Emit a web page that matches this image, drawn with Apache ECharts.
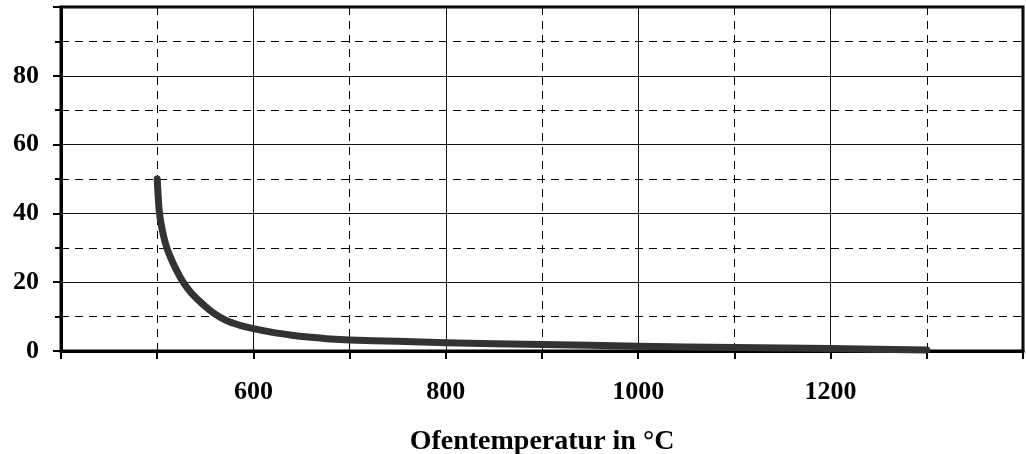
<!DOCTYPE html>
<html>
<head>
<meta charset="utf-8">
<script src="https://cdn.jsdelivr.net/npm/echarts@6/dist/echarts.min.js"></script>
<style>
html,body{margin:0;padding:0;background:#fff;}
#chart{width:1026px;height:454px;}
</style>
</head>
<body>
<div id="chart"></div>
<script>
var temps = [500, 501, 502, 504, 507, 510, 515, 520, 527, 535, 545, 555, 565, 575, 587, 600, 620, 640, 660, 680, 700, 750, 800, 900, 1000, 1100, 1200, 1300];
var values = [50, 45, 41, 37, 33, 30, 26.5, 23.5, 20, 17, 14.2, 11.8, 9.9, 8.5, 7.4, 6.5, 5.4, 4.6, 4.0, 3.5, 3.2, 2.8, 2.4, 1.9, 1.4, 1.0, 0.7, 0.3];
var xAxisName = 'Ofentemperatur in °C';

var chart = echarts.init(document.getElementById('chart'));
var font = 'Liberation Serif';
var option = {
  animation: false,
  backgroundColor: '#fff',
  grid: {left: 61, right: 3, top: 7, bottom: 103, outerBoundsMode: 'none', containLabel: false,
    show: true, borderColor: '#000', borderWidth: 3, backgroundColor: 'transparent'},
  xAxis: {
    type: 'value', min: 400, max: 1400, interval: 200,
    name: xAxisName, nameLocation: 'middle', nameGap: 77, nameMoveOverlap: false,
    nameTextStyle: {fontFamily: font, fontWeight: 'bold', fontSize: 28, color: '#000', verticalAlign: 'top'},
    axisLine: {show: true, lineStyle: {color: '#000', width: 3}},
    axisTick: {show: true, length: 8, lineStyle: {color: '#000', width: 2}},
    minorTick: {show: true, splitNumber: 2, length: 8, lineStyle: {color: '#000', width: 2}},
    axisLabel: {margin: 28, fontFamily: font, fontWeight: 'bold', fontSize: 26, color: '#000',
      formatter: function (v) { return (v === 400 || v === 1400) ? '' : String(v); }},
    splitLine: {show: true, lineStyle: {color: '#111', width: 1, type: 'solid'}},
    minorSplitLine: {show: true, lineStyle: {color: '#000', width: 1, type: [8, 6]}}
  },
  yAxis: {
    type: 'value', min: 0, max: 100, interval: 20,
    axisLine: {show: true, lineStyle: {color: '#000', width: 3}},
    axisTick: {show: true, length: 8, lineStyle: {color: '#000', width: 2}},
    minorTick: {show: true, splitNumber: 2, length: 6, lineStyle: {color: '#000', width: 2}},
    axisLabel: {margin: 22, fontFamily: font, fontWeight: 'bold', fontSize: 26, color: '#000',
      formatter: function (v) { return v === 100 ? '' : String(v); }},
    splitLine: {show: true, lineStyle: {color: '#111', width: 1, type: 'solid'}},
    minorSplitLine: {show: true, lineStyle: {color: '#000', width: 1, type: [8, 6]}}
  },
  series: [{
    type: 'line',
    data: temps.map(function (t, i) { return [t, values[i]]; }),
    showSymbol: false,
    smooth: 0.2,
    lineStyle: {color: '#333', width: 7, cap: 'round', join: 'round'}
  }]
};
chart.setOption(option);
</script>
</body>
</html>
